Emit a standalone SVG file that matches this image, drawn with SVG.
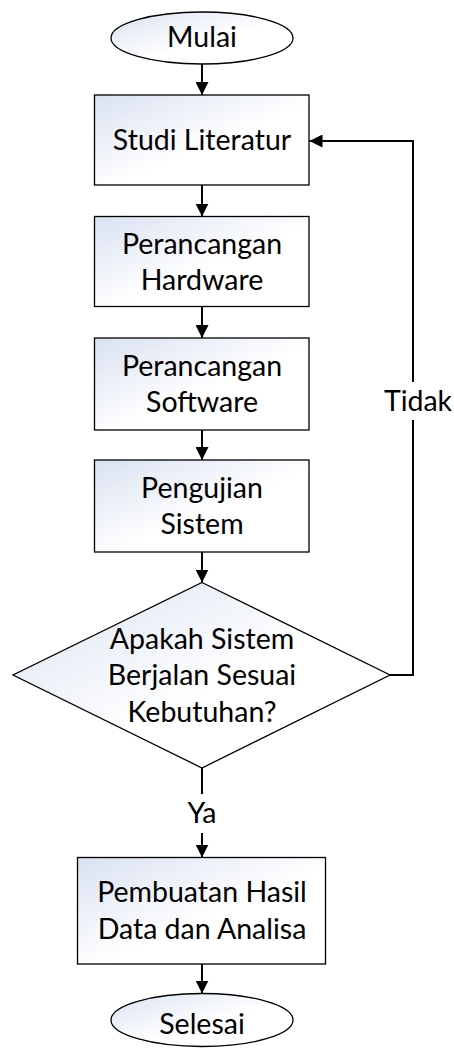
<svg xmlns="http://www.w3.org/2000/svg" width="454" height="1050" viewBox="0 0 454 1050">
<defs>
<linearGradient id="fill" x1="0" y1="0" x2="1" y2="1">
<stop offset="0" stop-color="#d9e1f1"/>
<stop offset="0.55" stop-color="#ffffff"/>
<stop offset="1" stop-color="#ffffff"/>
</linearGradient>
<marker id="arrow" viewBox="0 0 10 10" refX="10" refY="5" markerWidth="6.5" markerHeight="6.5" orient="auto" markerUnits="strokeWidth">
<path d="M0,0 L10,5 L0,10 Z" fill="#000"/>
</marker>
<style>
.shape{fill:url(#fill);stroke:#000;stroke-width:1.3}
.lbl{font-family:Lato,"Open Sans",sans-serif;font-size:28.5px;fill:#000;text-anchor:middle}
.conn{fill:none;stroke:#000;stroke-width:2}
</style>
</defs>
<rect width="454" height="1050" fill="#fff"/>
<g id="connectors">
<path class="conn" d="M202,64 V95" marker-end="url(#arrow)"/>
<path class="conn" d="M202,185 V216.5" marker-end="url(#arrow)"/>
<path class="conn" d="M202,306.5 V338" marker-end="url(#arrow)"/>
<path class="conn" d="M202,430 V460" marker-end="url(#arrow)"/>
<path class="conn" d="M202,552 V582.5" marker-end="url(#arrow)"/>
<path class="conn" d="M202,768 V794"/>
<path class="conn" d="M202,833 V857.5" marker-end="url(#arrow)"/>
<path class="conn" d="M202,964 V993.5" marker-end="url(#arrow)"/>
<path class="conn" d="M390,675 H413 V420"/>
<path class="conn" d="M413,382 V141 H309.5" marker-end="url(#arrow)"/>
<text class="lbl" x="418" y="411">Tidak</text>
<text class="lbl" x="202" y="823">Ya</text>
</g>
<g id="mulai">
<ellipse class="shape" cx="202" cy="38" rx="91" ry="26"/>
<text class="lbl" x="202" y="46.5">Mulai</text>
</g>
<g id="studi">
<rect class="shape" x="94.5" y="95" width="214.5" height="90"/>
<text class="lbl" x="202" y="150">Studi Literatur</text>
</g>
<g id="hardware">
<rect class="shape" x="94.5" y="216.5" width="214.5" height="90"/>
<text class="lbl" x="202" y="254">Perancangan</text>
<text class="lbl" x="202" y="290">Hardware</text>
</g>
<g id="software">
<rect class="shape" x="94.5" y="338" width="214.5" height="92"/>
<text class="lbl" x="202" y="376">Perancangan</text>
<text class="lbl" x="202" y="412">Software</text>
</g>
<g id="pengujian">
<rect class="shape" x="94.5" y="460" width="214.5" height="92"/>
<text class="lbl" x="202" y="498">Pengujian</text>
<text class="lbl" x="202" y="534">Sistem</text>
</g>
<g id="keputusan">
<polygon class="shape" points="202,582.5 390,675 202,768 13,675"/>
<text class="lbl" x="202" y="648.5">Apakah Sistem</text>
<text class="lbl" x="202" y="685">Berjalan Sesuai</text>
<text class="lbl" x="202" y="721.5">Kebutuhan?</text>
</g>
<g id="pembuatan">
<rect class="shape" x="77.5" y="857.5" width="248" height="106.5"/>
<text class="lbl" x="202" y="902">Pembuatan Hasil</text>
<text class="lbl" x="202" y="939">Data dan Analisa</text>
</g>
<g id="selesai">
<ellipse class="shape" cx="202" cy="1020" rx="91" ry="26.5"/>
<text class="lbl" x="202" y="1034">Selesai</text>
</g>
</svg>
